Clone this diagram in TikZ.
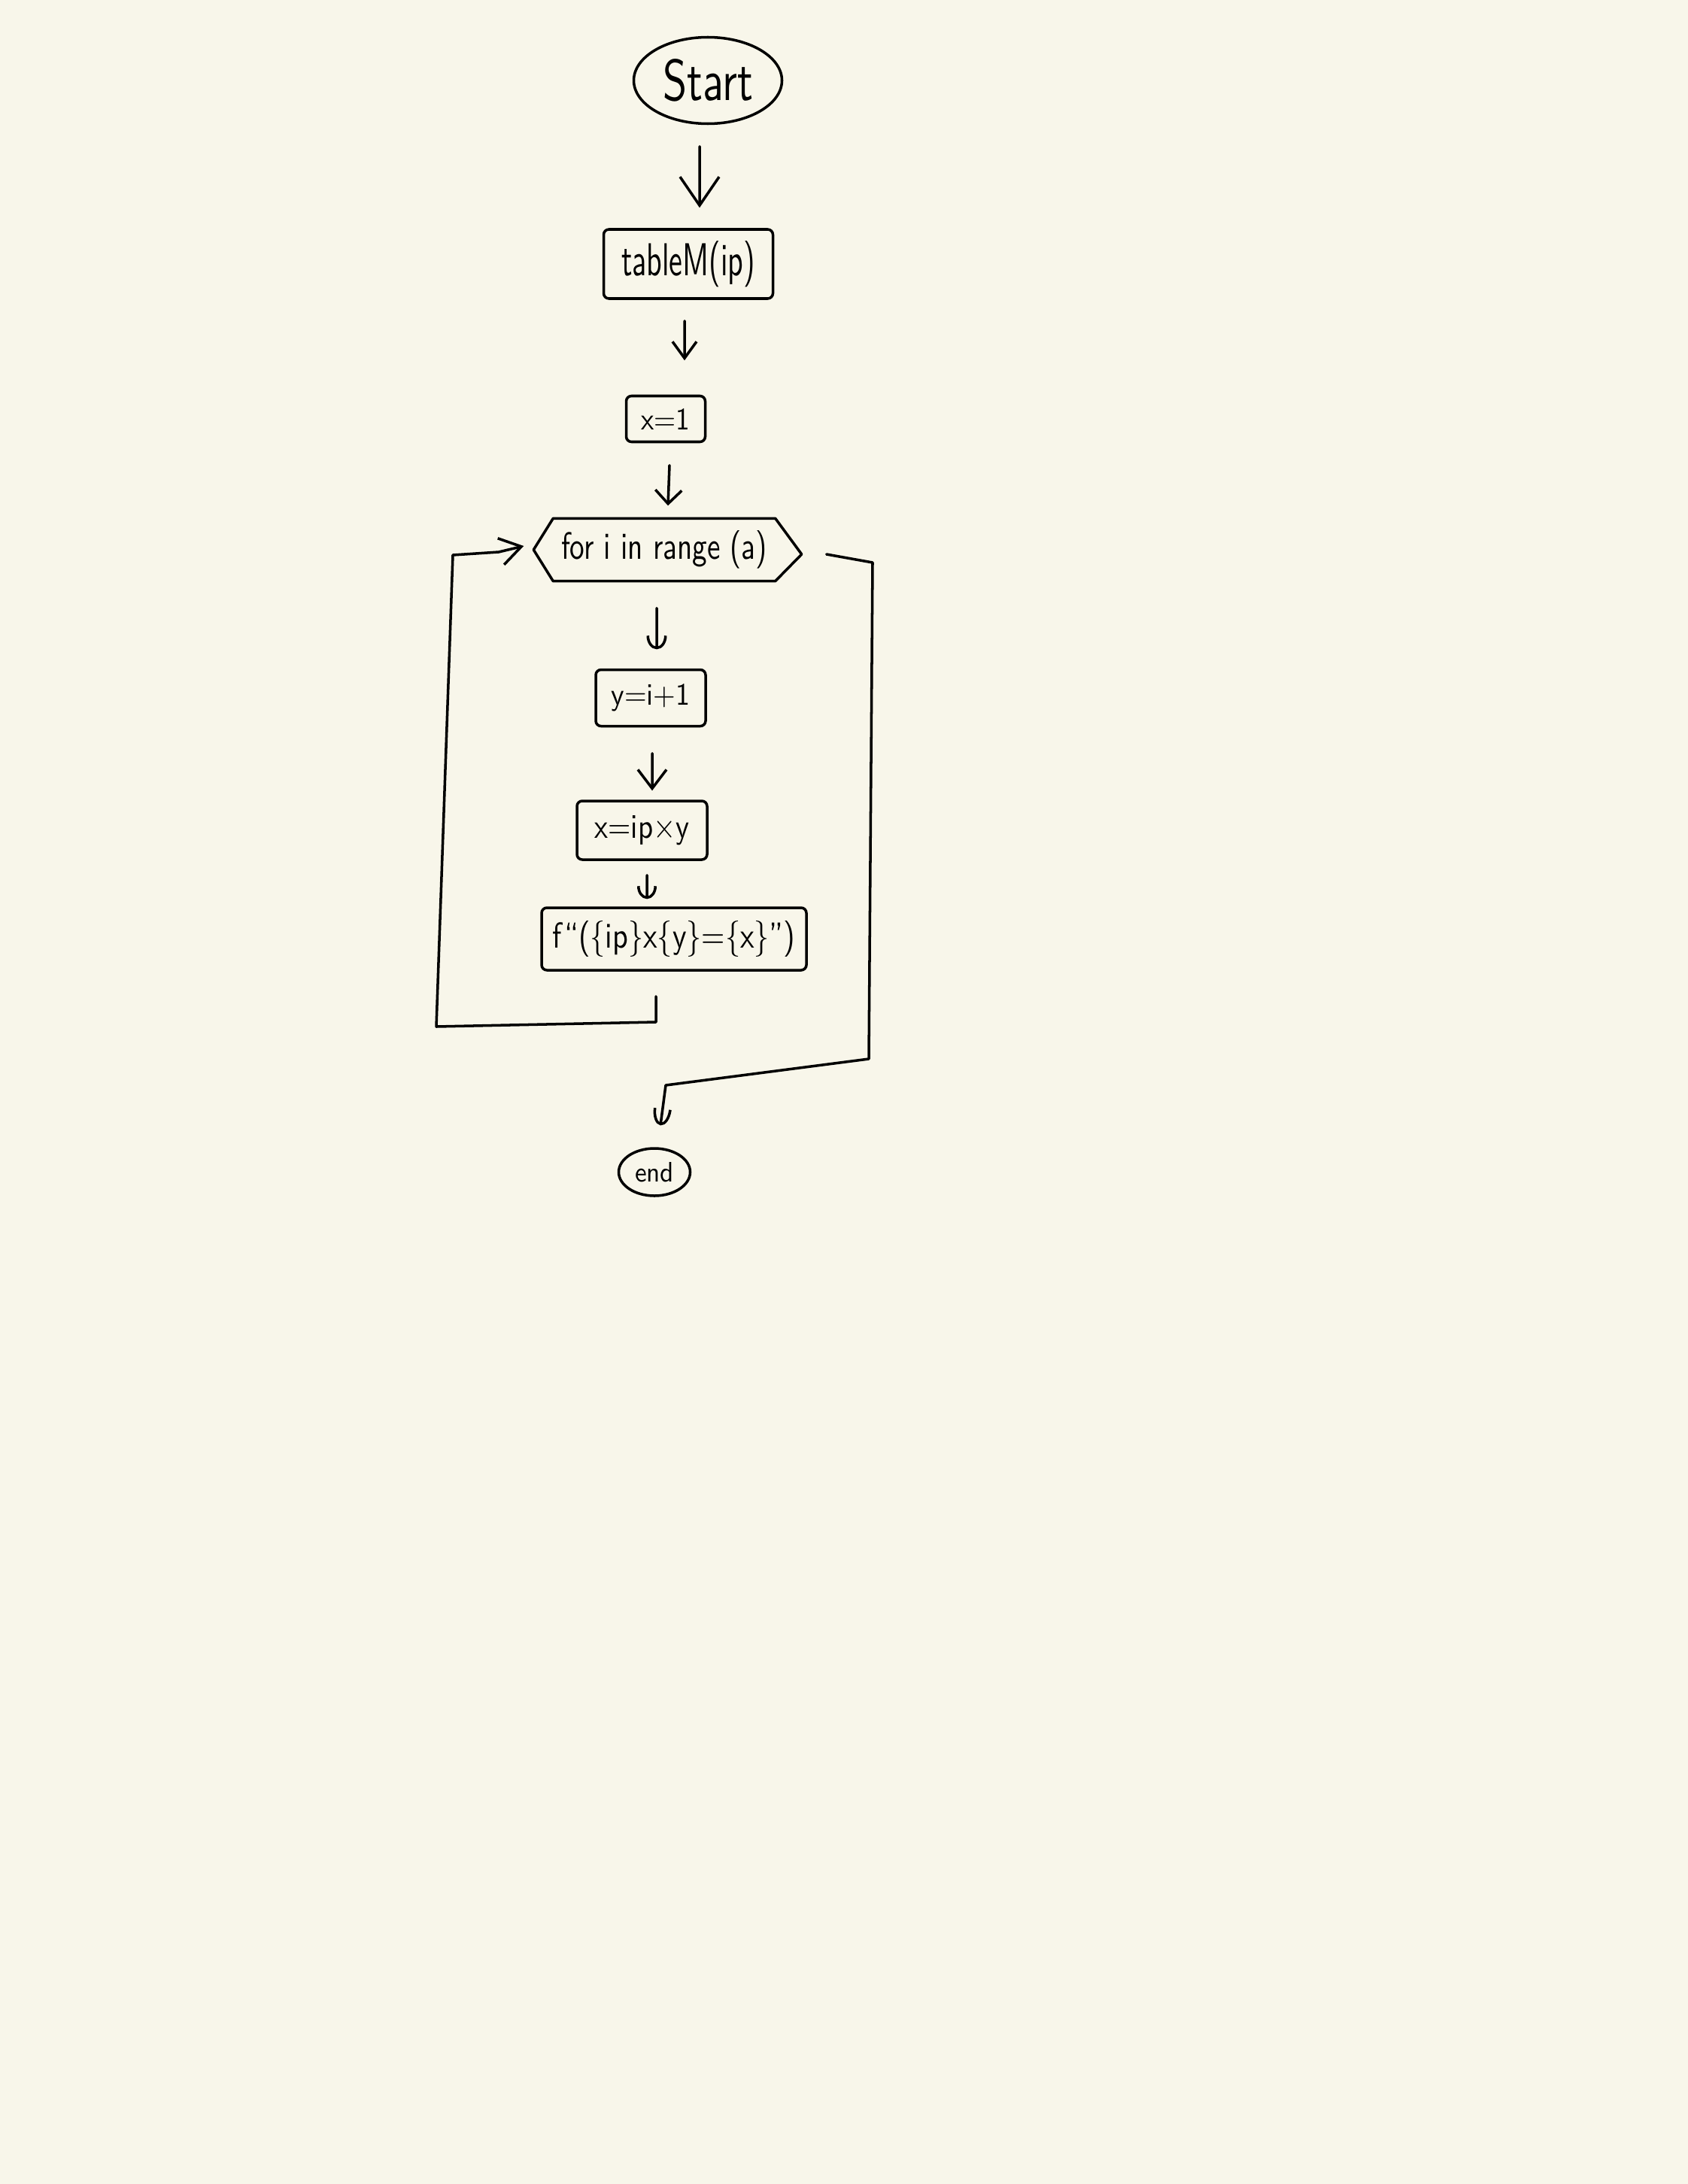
\documentclass[tikz,border=0pt]{standalone}
\usepackage{fontspec}
\usepackage{graphicx}
\usetikzlibrary{arrows.meta,shapes.geometric}
\definecolor{paper}{RGB}{248,246,234}
\newcommand\handtext[3]{\resizebox{#1}{#2}{#3}}
\begin{document}
\begin{tikzpicture}[
  every node/.style={font=\sffamily},
  box/.style={draw, line width=1pt, rounded corners=2pt, inner sep=0pt},
  oval/.style={draw, ellipse, line width=1pt, inner sep=0pt},
  conn/.style={line width=1pt, line cap=round, line join=round},
  tipA/.style={-{Straight Barb[length=0.38cm,width=0.52cm,line width=1pt]}},
  tipB/.style={-{Straight Barb[length=0.22cm,width=0.32cm,line width=1pt]}},
  tipC/.style={-{Straight Barb[length=0.18cm,width=0.35cm,line width=1pt]}},
  tipD/.style={-{Arc Barb[length=0.18cm,width=0.27cm,line width=1pt]}},
  tipE/.style={-{Straight Barb[length=0.25cm,width=0.38cm,line width=1pt]}},
  tipF/.style={-{Arc Barb[length=0.17cm,width=0.26cm,line width=1pt]}},
  tipG/.style={-{Straight Barb[length=0.28cm,width=0.36cm,line width=1pt]}},
  tipH/.style={-{Arc Barb[length=0.22cm,width=0.24cm,line width=1pt]}},
]
\fill[paper] (0,0) rectangle (22.44,-29.04);
\useasboundingbox (0,0) rectangle (22.44,-29.04);

% nodes
\node[oval, minimum width=1.97cm, minimum height=1.15cm] (start) at (9.41,-1.07)
  {\handtext{1.20cm}{0.55cm}{Start}};
\node[box, minimum width=2.25cm, minimum height=0.92cm] (tableM) at (9.15,-3.51)
  {\handtext{1.78cm}{0.46cm}{tableM(ip)}};
\node[box, minimum width=1.05cm, minimum height=0.61cm] (x1) at (8.85,-5.57)
  {\handtext{0.65cm}{0.28cm}{x=1}};
\node[inner sep=0pt, minimum width=2.94cm, minimum height=0.82cm] (hex) at (8.83,-7.31)
  {\handtext{2.74cm}{0.38cm}{for i in range (a)}};
\coordinate (hexR) at ([xshift=0.35cm,yshift=-0.06cm]hex.east);
\coordinate (hexL) at ([xshift=-0.26cm]hex.west);
\draw[conn] (hex.north west) -- (hex.north east) -- (hexR) -- (hex.south east)
  -- (hex.south west) -- (hexL) -- cycle;
\node[box, minimum width=1.46cm, minimum height=0.75cm] (yi) at (8.65,-9.28)
  {\handtext{1.05cm}{0.28cm}{y=i+1}};
\node[box, minimum width=1.73cm, minimum height=0.78cm] (xip) at (8.535,-11.04)
  {\handtext{1.26cm}{0.30cm}{x=ip×y}};
\node[box, minimum width=3.52cm, minimum height=0.83cm] (fstr) at (8.96,-12.485)
  {\handtext{3.23cm}{0.36cm}{f“(\{ip\}x\{y\}=\{x\}”)}};
\node[oval, minimum width=0.95cm, minimum height=0.63cm] (end) at (8.70,-15.585)
  {\handtext{0.52cm}{0.26cm}{end}};

% connectors
\draw[conn, tipA] ([xshift=-0.11cm,yshift=-0.285cm]start.south) -- ([xshift=0.15cm,yshift=0.27cm]tableM.north);
\draw[conn, tipB] ([xshift=-0.05cm,yshift=-0.28cm]tableM.south) -- ([xshift=0.25cm,yshift=0.455cm]x1.north);
\draw[conn, tipC] ([xshift=0.05cm,yshift=-0.295cm]x1.south) -- ([xshift=0.05cm,yshift=0.17cm]hex.north);
\draw[conn, tipD] ([xshift=-0.10cm,yshift=-0.36cm]hex.south) -- ([xshift=0.08cm,yshift=0.255cm]yi.north);
\draw[conn, tipE] ([xshift=0.02cm,yshift=-0.345cm]yi.south) -- ([xshift=0.135cm,yshift=0.12cm]xip.north);
\draw[conn, tipF] ([xshift=0.065cm,yshift=-0.19cm]xip.south) -- ([xshift=-0.36cm,yshift=0.10cm]fstr.north);

% loop back
\coordinate (loopA) at (8.72,-13.59);
\coordinate (loopB) at (5.80,-13.65);
\coordinate (loopC) at (6.02,-7.38);
\coordinate (loopD) at (6.63,-7.34);
\draw[conn, tipG] ([xshift=-0.24cm,yshift=-0.33cm]fstr.south) -- (loopA) -- (loopB) -- (loopC)
  -- (loopD) -- ([xshift=-0.13cm,yshift=0.05cm]hexL);

% exit
\coordinate (exA) at (11.60,-7.48);
\coordinate (exB) at (11.55,-14.08);
\coordinate (exC) at (8.85,-14.43);
\draw[conn, tipH] ([xshift=0.33cm]hexR) -- (exA) -- (exB) -- (exC)
  -- ([xshift=0.08cm,yshift=0.29cm]end.north);
\end{tikzpicture}
\end{document}
